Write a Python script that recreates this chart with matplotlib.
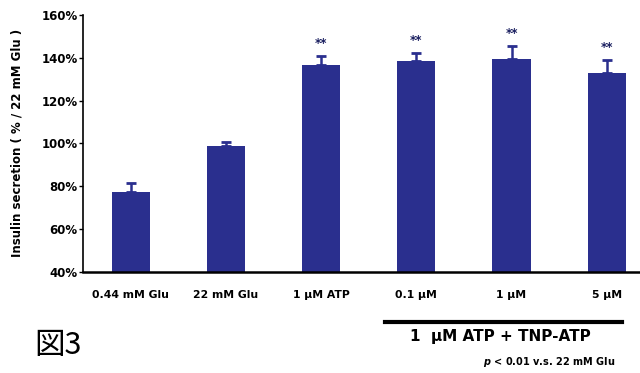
import matplotlib.pyplot as plt

plt.rcParams['font.family'] = ['DejaVu Sans']

# data
labels = ["0.44 mM Glu", "22 mM Glu", "1 μM ATP", "0.1 μM", "1 μM", "5 μM"]
values = [77.5, 99.0, 136.5, 138.5, 139.5, 132.8]
errors = [4.0, 1.6, 4.2, 3.6, 6.0, 6.0]
signif = ["", "", "**", "**", "**", "**"]
yticks = [40, 60, 80, 100, 120, 140, 160]

bar_color = '#2a2f8e'

fig = plt.figure(figsize=(6.4, 3.73), dpi=100)
ax = fig.add_axes([0.13, 0.271, 0.87, 0.689])

x = list(range(len(values)))
ax.bar(x, values, width=0.4, color=bar_color, zorder=2)
ax.errorbar(x, values, yerr=[[0] * len(errors), errors], fmt='none',
            ecolor=bar_color, elinewidth=1.8, capsize=3.5, capthick=2, zorder=3)

for xi, v, e, s in zip(x, values, errors, signif):
    if s:
        ax.text(xi, v + e + 6, s, ha='center', va='center',
                fontsize=8.5, fontweight='bold', color='#1a1f60')

ax.set_xlim(-0.5, 5.35)
ax.set_ylim(40, 160)
ax.set_yticks(yticks)
ax.set_yticklabels([f"{t}%" for t in yticks], fontsize=8.5, fontweight='bold')
ax.set_xticks(x)
ax.set_xticklabels(labels, fontsize=7.8, fontweight='bold')
ax.tick_params(axis='x', length=0, pad=13)
ax.tick_params(axis='y', length=3, width=1, direction='out', pad=1)
ax.set_ylabel("Insulin secretion ( % / 22 mM Glu )", fontsize=8.5, fontweight='bold', labelpad=13)

for side in ['top', 'right']:
    ax.spines[side].set_visible(False)
ax.spines['left'].set_linewidth(1.2)
ax.spines['bottom'].set_linewidth(1.8)

# bracket under the TNP-ATP groups
fig.add_artist(plt.Line2D([385 / 640, 622 / 640], [1 - 322 / 373, 1 - 322 / 373],
                          color='black', lw=3))
fig.text(500 / 640, 1 - 337 / 373, "1  μM ATP + TNP-ATP", ha='center', va='center',
         fontsize=11, fontweight='bold')
fig.text(615 / 640, 1 - 362 / 373, r"$\mathbfit{p}$ < 0.01 v.s. 22 mM Glu", ha='right', va='center',
         fontsize=7, fontweight='bold')
fig.text(34 / 640, 1 - 346 / 373, "図3", ha='left', va='center', fontsize=22,
         family=['Noto Sans CJK JP', 'DejaVu Sans'])

fig.savefig("out.png", dpi=100)
